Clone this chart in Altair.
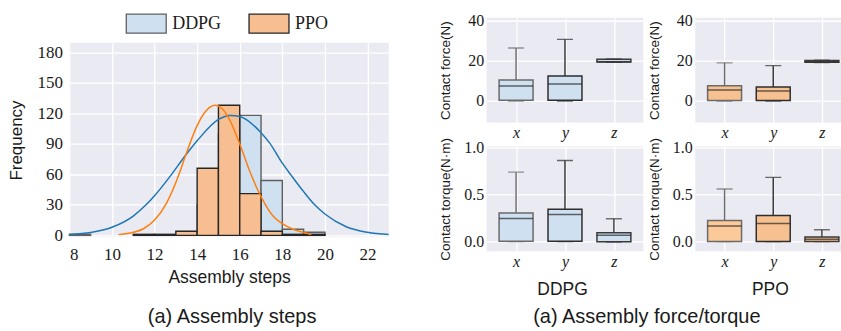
import json
import altair as alt
import pandas as pd

# ---------------- data ----------------
methods = ["DDPG", "PPO"]
bin_edges = [8, 9, 10, 11, 12, 13, 14, 15, 16, 17, 18, 19, 20]
ddpg_counts = [1, 0, 0, 0, 0, 2, 30, 100, 118, 54, 6, 3]
ppo_counts = [0, 0, 0, 1, 1, 4, 66, 128, 41, 4, 1, 1]

ddpg_fit_x = [8.0, 9.0, 10.0, 11.0, 11.6, 12.0, 12.8, 13.43, 14.0, 15.0, 15.55,
              16.0, 17.0, 17.4, 18.0, 18.42, 19.0, 19.52, 20.0, 21.0, 22.0, 23.0]
ddpg_fit_y = [0.9, 2.8, 8, 19, 30, 39, 60, 78, 93, 114, 118,
              117, 101, 91, 71, 59, 43, 30, 21, 8.5, 3, 0.8]
ppo_fit_x = [10.31, 11.0, 11.48, 12.0, 12.57, 13.2, 13.43, 14.0, 14.4, 14.84, 15.2,
             15.54, 16.0, 16.47, 17.0, 17.56, 18.0, 18.5, 18.97, 19.36]
ppo_fit_y = [0.7, 3, 6.5, 15, 32, 63, 77, 108, 122, 128, 124,
             113, 90, 63, 38, 19, 11.5, 6, 3, 0.7]

cats = ["x", "y", "z"]
# force (N)
force_ddpg = dict(lo=[0.0, 0.0, 19.3], q1=[0.3, 0.3, 19.4], med=[7.5, 8.5, 19.5],
                  q3=[10.5, 12.5, 20.8], hi=[26.4, 30.7, 21.0])
force_ppo = dict(lo=[0.0, 0.0, 19.2], q1=[0.2, 0.2, 19.3], med=[5.5, 5.0, 19.5],
                 q3=[7.6, 7.0, 20.2], hi=[19.0, 17.6, 20.3])
# torque (N.m)
torque_ddpg = dict(lo=[0.0, 0.0, -0.005], q1=[0.005, 0.005, 0.0], med=[0.247, 0.289, 0.067],
                   q3=[0.303, 0.345, 0.095], hi=[0.738, 0.862, 0.243])
torque_ppo = dict(lo=[0.0, 0.0, 0.0], q1=[0.002, 0.002, 0.002], med=[0.166, 0.194, 0.025],
                  q3=[0.225, 0.278, 0.05], hi=[0.559, 0.682, 0.127])

# ---------------- style ----------------
BG = "#EAEAF2"
SERIF = "Liberation Serif"
SANS = "Liberation Sans"
TXT = "#1a1a1a"
hist_fills = ["#CFE0F1", "#F7BF91"]
hist_edges = ["#5f5f5f", "#262626"]
ddpg_box_fill = ["#CFE0F1", "#CFE0F1", "#CFE0F1"]
ppo_box_fill = ["#F7C090", "#F7C090", "#F7C090"]
ppo_torque_fill = ["#FCCA98", "#F7C090", "#F7C090"]
box_edges = ["#6a6a6a", "#2e2e2e", "#3a3a3a"]

# ---------------- histogram ----------------
rows = []
for m, counts in zip(methods, [ddpg_counts, ppo_counts]):
    for i, c in enumerate(counts):
        if c > 0:
            rows.append(dict(method=m, step=bin_edges[i], step_end=bin_edges[i + 1], freq=c, base=0))
hist_df = pd.DataFrame(rows)
fit_ddpg_df = pd.DataFrame(dict(step=ddpg_fit_x, freq=ddpg_fit_y))
fit_ppo_df = pd.DataFrame(dict(step=ppo_fit_x, freq=ppo_fit_y))

HX = alt.X("step:Q", scale=alt.Scale(domain=[8, 23], nice=False, zero=False),
           axis=alt.Axis(values=list(range(8, 23, 2)), title="Assembly steps",
                         labelFontSize=17, titleFontSize=17.5, labelPadding=9, titlePadding=6))
HY = alt.Y("freq:Q", scale=alt.Scale(domain=[-2, 189.5], nice=False, zero=False),
           axis=alt.Axis(values=[0, 30, 60, 90, 120, 150, 180], title="Frequency",
                         labelFontSize=17, titleFontSize=17, labelPadding=7,
                         titleX=-44, titleY=97.5))

bars = alt.Chart(hist_df).mark_rect(strokeWidth=1.4).encode(
    x=HX, x2="step_end:Q", y=HY, y2="base:Q",
    fill=alt.Fill("method:N", scale=alt.Scale(domain=methods, range=hist_fills),
                  legend=alt.Legend(title=None, orient="none", legendX=56, legendY=-40.5,
                                    direction="horizontal",
                                    symbolType="M-1,-0.475H1V0.475H-1Z", symbolSize=1600,
                                    symbolStrokeColor="#333333", symbolStrokeWidth=1.3,
                                    symbolOpacity=1,
                                    labelFont=SERIF, labelFontSize=18, labelColor=TXT,
                                    labelOffset=5, columnPadding=24, padding=0)),
    stroke=alt.Stroke("method:N", scale=alt.Scale(domain=methods, range=hist_edges), legend=None),
)
line_d = alt.Chart(fit_ddpg_df).mark_line(color="#1f77b4", strokeWidth=1.5,
                                           interpolate="monotone", clip=True).encode(x=HX, y=HY)
line_p = alt.Chart(fit_ppo_df).mark_line(color="#ff7f0e", strokeWidth=1.5,
                                          interpolate="monotone", clip=True).encode(x=HX, y=HY)
hist = alt.layer(bars, line_d, line_p).properties(
    width=320, height=195,
    title=alt.TitleParams("(a) Assembly steps", orient="bottom", font=SANS, fontSize=20,
                          fontWeight="normal", color=TXT, offset=21, dx=3),
)

spacer = alt.Chart(pd.DataFrame(dict(a=[0]))).mark_point(opacity=0).encode(
    x=alt.X("a:Q", axis=None), y=alt.Y("a:Q", axis=None)
).properties(width=320, height=1, view=alt.ViewBackground(fill="transparent", strokeWidth=0))

left = alt.vconcat(spacer, hist, spacing=24, bounds="flush").resolve_scale(
    fill="independent", stroke="independent")

# ---------------- box panels ----------------
label_expr = json.dumps(cats) + "[datum.value]"
STEP = 157 / 3.0


def box_panel(stats, fills, ydomain, yvals, yfmt, ytitle, width, xtitle=None, xtitle_x=0,
              caption=None):
    df = pd.DataFrame(dict(pos=list(range(len(cats))), cat=cats, fill=fills, edge=box_edges, **stats))
    xaxis = dict(values=list(range(len(cats))), labelExpr=label_expr,
                 labelFont=SERIF, labelFontStyle="italic", labelFontSize=16, labelPadding=2)
    if xtitle:
        xaxis.update(title=xtitle, titleFont=SANS, titleFontSize=17.5, titlePadding=11.3,
                     titleX=xtitle_x)
    else:
        xaxis.update(title=None)
    X = alt.X("pos:Q", scale=alt.Scale(domain=[-0.5, -0.5 + width / STEP], nice=False, zero=False),
              axis=alt.Axis(**xaxis))

    def Y(field):
        return alt.Y(field, scale=alt.Scale(domain=ydomain, nice=False, zero=False),
                     axis=alt.Axis(values=yvals, format=yfmt, title=ytitle, labelFontSize=16,
                                   labelPadding=3, titleFont=SANS, titleFontSize=13.5,
                                   titleX=-34, titleY=52.5))

    base = alt.Chart(df)
    whisk = base.mark_rule(strokeWidth=1.4, clip=True).encode(
        x=X, y=Y("lo:Q"), y2="hi:Q", stroke=alt.Stroke("edge:N", scale=None))
    cap_lo = base.mark_tick(orient="horizontal", size=16, thickness=1.4, clip=True).encode(
        x=X, y=Y("lo:Q"), color=alt.Color("edge:N", scale=None))
    cap_hi = base.mark_tick(orient="horizontal", size=16, thickness=1.4, clip=True).encode(
        x=X, y=Y("hi:Q"), color=alt.Color("edge:N", scale=None))
    box = base.mark_bar(size=34, strokeWidth=1.5, clip=True).encode(
        x=X, y=Y("q1:Q"), y2="q3:Q",
        fill=alt.Fill("fill:N", scale=None), stroke=alt.Stroke("edge:N", scale=None))
    med = base.mark_tick(orient="horizontal", size=34, thickness=1.5, clip=True).encode(
        x=X, y=Y("med:Q"), color=alt.value("#2a2a2a"))
    props = dict(width=width, height=105)
    if caption:
        props["title"] = alt.TitleParams(caption, orient="bottom", font=SANS, fontSize=20,
                                         fontWeight="normal", color=TXT, offset=8.7, dx=82)
    return alt.layer(whisk, cap_lo, cap_hi, box, med).properties(**props)


FD = [-10.8, 41.5]
TD = [-0.103, 1.01]
fd = box_panel(force_ddpg, ddpg_box_fill, FD, [0, 20, 40], "d", "Contact force(N)", 157)
fp = box_panel(force_ppo, ppo_box_fill, FD, [0, 20, 40], "d", "Contact force(N)", 146)
td = box_panel(torque_ddpg, ddpg_box_fill, TD, [0.0, 0.5, 1.0], ".1f", "Contact torque(N\u00b7m)", 157,
               xtitle="DDPG", xtitle_x=75.5, caption="(a) Assembly force/torque")
tp = box_panel(torque_ppo, ppo_torque_fill, TD, [0.0, 0.5, 1.0], ".1f", "Contact torque(N\u00b7m)", 146,
               xtitle="PPO", xtitle_x=74.7)

grid = alt.concat(fd, fp, td, tp, columns=2, spacing={"row": 24, "column": 52},
                  bounds="flush", align="each")

chart = alt.hconcat(left, grid, spacing=49).resolve_scale(
    fill="independent", stroke="independent", color="independent"
).properties(
    padding={"left": 7.5, "top": 1.5, "right": 0, "bottom": 2},
    background="white",
).configure_view(fill=BG, strokeWidth=0).configure_axis(
    domain=False, ticks=False, grid=True, gridColor="white", gridWidth=1.3,
    labelFont=SERIF, labelColor=TXT, titleFont=SANS, titleColor=TXT, titleFontWeight="normal",
)

chart.save("out.html", embed_options={"renderer": "svg", "actions": False})
